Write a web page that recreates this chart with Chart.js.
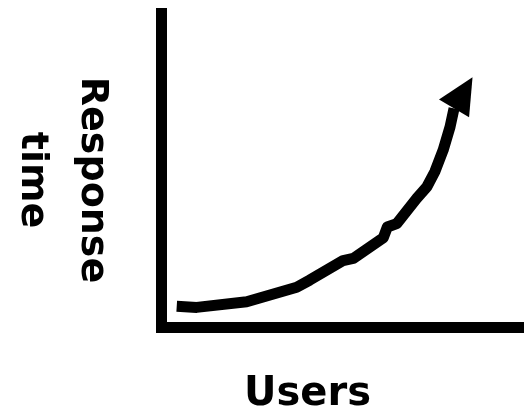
<!DOCTYPE html>
<html>
<head>
<meta charset="utf-8">
<script src="https://cdn.jsdelivr.net/npm/chart.js@4"></script>
<style>
  html, body { margin: 0; padding: 0; background: #fff; }
  #wrap { width: 524px; height: 409px; }
</style>
</head>
<body>
<div id="wrap"><canvas id="chart" width="524" height="409"></canvas></div>
<script>
// values (x = users, y = response time, both 0..100)
const users = [4.2, 9.7, 23.5, 37.3, 40.9, 50.1, 52.9, 61.2, 62.3, 64.9, 70.4, 73.2, 75.4, 77.7, 79.6, 80.7];
const responseTime = [6.8, 6.4, 8.2, 12.8, 15.1, 21.3, 22.0, 28.6, 32.0, 33.1, 41.1, 44.8, 49.6, 56.5, 63.9, 69.8];
const arrowTip = [85.8, 79.7];

const xTitle = "Users";
const yTitle = ["Response", "time"];

const points = users.map((u, i) => ({ x: u, y: responseTime[i] }));

//arrow head + hand drawn axis titles
const sketchPlugin = {
  id: "sketch",
  afterDatasetsDraw(chart) {
    const ctx = chart.ctx;
    const xs = chart.scales.x;
    const ys = chart.scales.y;
    const last = points[points.length - 1];
    const bx = xs.getPixelForValue(last.x);
    const by = ys.getPixelForValue(last.y);
    const tx = xs.getPixelForValue(arrowTip[0]);
    const ty = ys.getPixelForValue(arrowTip[1]);
    const len = Math.hypot(tx - bx, ty - by);
    const nx = -(ty - by) / len;
    const ny = (tx - bx) / len;
    const half = 17.5;
    ctx.save();
    ctx.fillStyle = "#000";
    ctx.beginPath();
    ctx.moveTo(tx, ty);
    ctx.lineTo(bx + nx * half, by + ny * half);
    ctx.lineTo(bx - nx * half, by - ny * half);
    ctx.closePath();
    ctx.fill();
    ctx.restore();
  },
  afterDraw(chart) {
    const ctx = chart.ctx;
    ctx.save();
    ctx.fillStyle = "#000";
    ctx.textAlign = "center";
    ctx.textBaseline = "alphabetic";

    ctx.font = "bold 40px 'DejaVu Sans'";
    ctx.fillText(xTitle, 307.5, 405);

    ctx.font = "bold 38px 'DejaVu Sans'";
    const baselines = [82, 22];
    yTitle.forEach((t, i) => {
      ctx.save();
      ctx.translate(baselines[i], 180);
      ctx.rotate(Math.PI / 2);
      ctx.fillText(t, 0, 0);
      ctx.restore();
    });
    ctx.restore();
  },
};

new Chart(document.querySelector("#chart").getContext("2d"), {
  type: "line",
  data: {
    datasets: [
      {
        data: points,
        borderColor: "#000",
        borderWidth: 11,
        borderCapStyle: "butt",
        borderJoinStyle: "round",
        pointRadius: 0,
        tension: 0,
        fill: false,
      },
    ],
  },
  options: {
    responsive: false,
    animation: false,
    layout: { padding: { top: 13.5, right: 0, left: 0, bottom: 0 } },
    plugins: { legend: { display: false }, tooltip: { enabled: false } },
    scales: {
      x: {
        type: "linear",
        min: 0,
        max: 100,
        ticks: { display: false },
        grid: { display: false },
        border: { display: true, color: "#000", width: 11 },
        afterFit(scale) {
          scale.height = 81.5;
        },
      },
      y: {
        type: "linear",
        min: 0,
        max: 100,
        ticks: { display: false },
        grid: { display: false },
        border: { display: true, color: "#000", width: 11 },
        afterFit(scale) {
          scale.width = 161.5;
        },
      },
    },
  },
  plugins: [sketchPlugin],
});
</script>
</body>
</html>
